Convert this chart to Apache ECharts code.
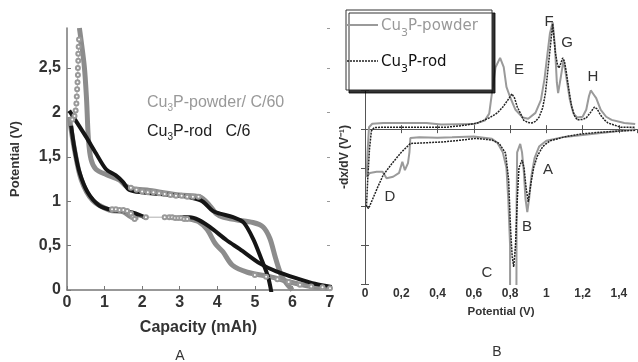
<!DOCTYPE html>
<html>
<head>
<meta charset="utf-8">
<script src="https://cdn.jsdelivr.net/npm/echarts@6/dist/echarts.min.js"></script>
<style>
  html, body { margin: 0; padding: 0; background: #fff; }
  #chart { width: 638px; height: 362px; }
</style>
</head>
<body>
<div id="chart"></div>
<script>
  // ---- panel A : potential vs capacity ----
  var powderUpper = [[0.33, 2.95], [0.46, 2.52], [0.52, 2.15], [0.57, 1.7], [0.64, 1.47], [0.77, 1.36], [1.04, 1.3], [1.39, 1.24], [1.57, 1.17], [1.75, 1.14], [2.2, 1.12], [3.0, 1.07], [3.53, 1.05], [3.8, 0.95], [3.97, 0.86], [4.15, 0.82], [4.5, 0.79], [4.95, 0.76], [5.22, 0.71], [5.4, 0.58], [5.55, 0.36], [5.7, 0.17], [5.85, 0.07], [6.0, 0]]
  var powderLower = [[0.06, 1.95], [0.2, 1.58], [0.38, 1.24], [0.68, 1.01], [1.13, 0.9], [1.5, 0.88], [1.75, 0.82], [1.9, 0.82]]
  var powderTail = [[3.25, 0.8], [3.5, 0.77], [3.73, 0.68], [3.95, 0.52], [4.15, 0.43], [4.4, 0.28], [4.8, 0.2], [5.4, 0.15], [5.93, 0.09], [6.5, 0.04], [7.0, 0.02]]
  var rodUpper = [[0.06, 2.02], [0.5, 1.73], [0.77, 1.54], [1.04, 1.36], [1.3, 1.29], [1.48, 1.22], [1.65, 1.13], [2.0, 1.1], [3.0, 1.06], [3.3, 1.04], [3.6, 1.0], [3.88, 0.89], [4.07, 0.86], [4.42, 0.82], [4.7, 0.76], [4.96, 0.57], [5.18, 0.34], [5.35, 0.15], [5.45, -0.05]]
  var rodLower = [[0.11, 1.85], [0.2, 1.59], [0.33, 1.33], [0.55, 1.1], [0.86, 0.95], [1.2, 0.9], [1.5, 0.89], [1.76, 0.87], [1.95, 0.84], [2.11, 0.81]]
  var rodTail = [[3.0, 0.82], [3.27, 0.82], [3.5, 0.79], [3.8, 0.71], [4.25, 0.56], [4.6, 0.46], [5.13, 0.3], [5.57, 0.21], [6.2, 0.12], [6.6, 0.07], [7.1, 0.03]]
  // measured points (open circles)
  var circStart = [[0.32, 2.82], [0.31, 2.74], [0.3, 2.66], [0.3, 2.58], [0.29, 2.5], [0.29, 2.42], [0.28, 2.34], [0.27, 2.26], [0.26, 2.18], [0.25, 2.1], [0.23, 2.02], [0.2, 1.96], [0.14, 1.92]]
  var circLow = [[1.2, 0.91], [1.3, 0.91], [1.4, 0.9], [1.5, 0.9], [1.6, 0.89], [1.7, 0.86], [1.75, 0.82], [1.8, 0.8], [2.1, 0.82], [2.6, 0.82], [2.72, 0.82], [2.8, 0.82], [2.88, 0.81], [2.96, 0.81], [3.04, 0.81], [3.12, 0.8], [3.2, 0.8]]
  var circUp = [[1.7, 1.15], [1.85, 1.13], [2.0, 1.11], [2.15, 1.1], [2.3, 1.1], [2.45, 1.09], [2.6, 1.08], [2.75, 1.07], [2.9, 1.06], [3.05, 1.06], [3.2, 1.05], [3.35, 1.05], [3.5, 1.05]]
  var circTail = [[5.0, 0.17], [5.3, 0.15], [5.6, 0.12], [5.9, 0.09], [6.2, 0.06], [6.5, 0.04], [6.8, 0.03], [7.0, 0.02]]

  // ---- panel B : -dx/dV vs potential ----
  var powderDis = [[1.49, 0.0], [1.4, -0.05], [1.3, -0.1], [1.2, -0.15], [1.1, -0.2], [1.0, -0.3], [0.96, -0.45], [0.935, -0.75], [0.918, -1.2], [0.905, -1.8], [0.895, -2.14], [0.885, -1.8], [0.876, -1.1], [0.866, -0.6], [0.856, -0.38], [0.846, -0.33], [0.839, -0.6], [0.836, -2], [0.835, -4.5], [0.80, -4.5], [0.80, -3.0], [0.79, -1.8], [0.78, -1.0], [0.76, -0.6], [0.73, -0.35], [0.7, -0.25], [0.6, -0.19], [0.48, -0.21], [0.4, -0.22], [0.3, -0.21], [0.25, -0.23], [0.245, -0.6], [0.237, -0.88], [0.22, -1.06], [0.206, -0.84], [0.188, -1.13], [0.155, -1.23], [0.119, -1.27], [0.097, -1.1], [0.064, -1.1], [0.027, -1.13], [0.009, -1.23]]
  var powderCh = [[0.014, -0.6], [0.022, 0.05], [0.04, 0.14], [0.1, 0.16], [0.34, 0.16], [0.42, 0.12], [0.6, 0.13], [0.66, 0.22], [0.685, 0.4], [0.70, 0.93], [0.72, 1.6], [0.745, 1.84], [0.765, 1.6], [0.78, 1.09], [0.8, 0.83], [0.83, 0.5], [0.87, 0.3], [0.9, 0.27], [0.94, 0.42], [0.97, 0.75], [0.99, 1.3], [1.005, 1.9], [1.02, 2.48], [1.035, 2.76], [1.048, 2.1], [1.058, 1.2], [1.065, 0.93], [1.08, 1.35], [1.095, 1.79], [1.11, 1.35], [1.13, 0.75], [1.15, 0.4], [1.17, 0.3], [1.2, 0.32], [1.22, 0.5], [1.235, 0.85], [1.245, 1.0], [1.26, 0.9], [1.275, 0.8], [1.3, 0.5], [1.33, 0.32], [1.36, 0.24], [1.43, 0.16], [1.49, 0.13]]
  var rodDis = [[1.49, -0.03], [1.4, -0.05], [1.3, -0.08], [1.2, -0.12], [1.1, -0.2], [1.02, -0.3], [0.98, -0.45], [0.95, -0.7], [0.93, -1.0], [0.915, -1.4], [0.9, -1.88], [0.888, -1.5], [0.877, -1.0], [0.866, -0.8], [0.857, -0.75], [0.849, -1.0], [0.84, -1.8], [0.83, -3.0], [0.82, -3.56], [0.812, -3.3], [0.803, -2.6], [0.792, -1.3], [0.775, -0.62], [0.74, -0.37], [0.7, -0.28], [0.61, -0.24], [0.5, -0.3], [0.43, -0.33], [0.3, -0.36], [0.25, -0.37], [0.2, -0.6], [0.15, -0.88], [0.1, -1.19], [0.07, -1.5], [0.04, -1.83], [0.02, -2.05], [0.008, -2.0]]
  var rodCh = [[0.015, -1.3], [0.025, -0.5], [0.035, -0.05], [0.05, 0.04], [0.1, 0.05], [0.45, 0.05], [0.55, 0.1], [0.62, 0.16], [0.685, 0.29], [0.73, 0.42], [0.76, 0.57], [0.795, 0.8], [0.81, 0.91], [0.825, 0.8], [0.84, 0.57], [0.86, 0.38], [0.875, 0.23], [0.9, 0.17], [0.92, 0.16], [0.94, 0.2], [0.96, 0.31], [0.98, 0.55], [0.995, 0.93], [1.008, 1.5], [1.02, 2.04], [1.035, 2.72], [1.05, 1.97], [1.062, 1.65], [1.07, 1.58], [1.08, 1.7], [1.09, 1.84], [1.1, 1.75], [1.11, 1.48], [1.125, 1.0], [1.14, 0.57], [1.155, 0.35], [1.17, 0.24], [1.2, 0.25], [1.22, 0.29], [1.245, 0.44], [1.265, 0.57], [1.28, 0.52], [1.3, 0.36], [1.32, 0.24], [1.34, 0.16], [1.41, 0.05], [1.49, 0.05]]
  var peakLabels = [['F', 549, 22], ['G', 567, 43], ['E', 519, 70], ['H', 593, 77], ['A', 548, 170], ['B', 527, 227], ['C', 487, 273], ['D', 390, 197]]
  var legendNames = ['Cu{s|3}P-powder', 'Cu{s|3}P-rod']

  var comma = function (v) { return String(Math.round(v * 10) / 10).replace('.', ',') }

  var chart = echarts.init(document.getElementById('chart'))

  var thick = function (data, color, w) {
    return { type: 'line', xAxisIndex: 0, yAxisIndex: 0, data: data, symbol: 'none', smooth: 0.3,
      lineStyle: { color: color, width: w }, z: w === 5 ? 2 : 3 }
  }
  var circles = function (data) {
    return { type: 'line', xAxisIndex: 0, yAxisIndex: 0, data: data, symbol: 'emptyCircle', symbolSize: 4,
      showAllSymbol: true, lineStyle: { color: '#999', width: 0.8 }, itemStyle: { color: '#999', borderWidth: 1 }, z: 4 }
  }

  var tickLabelA = { color: '#333', fontSize: 16, fontWeight: 'bold', fontFamily: 'Liberation Sans' }
  var frameB = {
    axisLine: { lineStyle: { color: '#555' } },
    axisTick: { inside: true, length: 4, lineStyle: { color: '#555' } },
    splitLine: { show: false }
  }

  // legend drawn by hand (box with drop shadow, solid / dotted samples)
  var legendBox = [
    { type: 'rect', z: 100, shape: { x: 346, y: 10, width: 146, height: 80 },
      style: { fill: '#fff', stroke: '#333', lineWidth: 1, shadowColor: 'rgba(0,0,0,0.8)', shadowOffsetX: 3, shadowOffsetY: 3, shadowBlur: 0 } },
    { type: 'line', z: 101, shape: { x1: 347, y1: 25, x2: 378, y2: 25 }, style: { stroke: '#9a9a9a', lineWidth: 2 } },
    { type: 'line', z: 101, shape: { x1: 347, y1: 61, x2: 378, y2: 61 }, style: { stroke: '#222', lineWidth: 1.5, lineDash: [2, 1] } },
    { type: 'text', z: 101, x: 381, y: 26, style: { text: legendNames[0], fill: '#999', fontSize: 15, fontFamily: 'DejaVu Sans', verticalAlign: 'middle',
      rich: { s: { fontSize: 11, fill: '#999', fontFamily: 'DejaVu Sans', padding: [15, 0, 0, 0] } } } },
    { type: 'text', z: 101, x: 381, y: 62, style: { text: legendNames[1], fill: '#111', fontSize: 15, fontFamily: 'DejaVu Sans', verticalAlign: 'middle',
      rich: { s: { fontSize: 11, fill: '#111', fontFamily: 'DejaVu Sans', padding: [15, 0, 0, 0] } } } }
  ]

  chart.setOption({
    animation: false,
    grid: [
      { left: 67, top: 28, width: 263, height: 262 },
      { left: 365, top: 13, width: 272, height: 271 }
    ],
    xAxis: [
      { gridIndex: 0, type: 'value', min: 0, max: 7, interval: 1,
        name: 'Capacity (mAh)', nameLocation: 'middle', nameGap: 30,
        nameTextStyle: { fontSize: 16, fontWeight: 'bold', color: '#333', fontFamily: 'Liberation Sans' },
        axisLine: { lineStyle: { color: '#777', width: 1.5 } },
        axisTick: { inside: true, length: 4, lineStyle: { color: '#777' } },
        axisLabel: Object.assign({ margin: 5, formatter: comma }, tickLabelA),
        splitLine: { show: false } },
      Object.assign({ gridIndex: 1, type: 'value', min: 0, max: 1.5, interval: 0.2,
        name: 'Potential (V)', nameLocation: 'middle', nameGap: 22,
        nameTextStyle: { fontSize: 11.5, fontWeight: 'bold', color: '#333', fontFamily: 'Liberation Sans' },
        axisLabel: { margin: 4, formatter: comma, showMaxLabel: false, color: '#333', fontSize: 12, fontWeight: 'bold', fontFamily: 'Liberation Sans' } }, frameB),
      Object.assign({ gridIndex: 1, type: 'value', position: 'top', min: 0, max: 1.5, interval: 0.2,
        axisLabel: { show: false } }, frameB)
    ],
    yAxis: [
      { gridIndex: 0, type: 'value', min: 0, max: 2.95, interval: 0.5,
        name: 'Potential (V)', nameLocation: 'middle', nameGap: 45,
        nameTextStyle: { fontSize: 13, fontWeight: 'bold', color: '#333', fontFamily: 'Liberation Sans' },
        axisLine: { lineStyle: { color: '#777', width: 1.5 } },
        axisTick: { inside: true, length: 4, lineStyle: { color: '#777' } },
        axisLabel: Object.assign({ margin: 6, formatter: comma, showMaxLabel: false }, tickLabelA),
        splitLine: { show: false } },
      { gridIndex: 0, type: 'value', position: 'right', min: 0, max: 2.95, interval: 0.5,
        axisLine: { show: false }, axisLabel: { show: false }, splitLine: { show: false },
        axisTick: { inside: true, length: 3, lineStyle: { color: '#999' } } },
      Object.assign({ gridIndex: 1, type: 'value', min: -4, max: 3, interval: 1,
        axisLabel: { show: false } }, frameB),
      Object.assign({ gridIndex: 1, type: 'value', position: 'right', min: -4, max: 3, interval: 1,
        axisLabel: { show: false } }, frameB)
    ],
    graphic: [
      { type: 'text', x: 147, y: 103, style: { text: 'Cu{s|3}P-powder/ C/60', fill: '#999', fontSize: 16, fontFamily: 'Liberation Sans', verticalAlign: 'middle',
        rich: { s: { fontSize: 10, fill: '#999', padding: [10, 0, 0, 0] } } } },
      { type: 'text', x: 147, y: 132, style: { text: 'Cu{s|3}P-rod   C/6', fill: '#222', fontSize: 16, fontFamily: 'Liberation Sans', verticalAlign: 'middle',
        rich: { s: { fontSize: 10, fill: '#222', padding: [10, 0, 0, 0] } } } },
      { type: 'text', x: 345, y: 157, rotation: Math.PI / 2, style: { text: '-dx/dV (V\u207B\u00B9)', fill: '#333', fontSize: 12, fontWeight: 'bold', fontFamily: 'Liberation Sans', align: 'center', verticalAlign: 'middle' } },
      { type: 'text', x: 180, y: 356, style: { text: 'A', fill: '#333', fontSize: 14, fontFamily: 'Liberation Sans', align: 'center', verticalAlign: 'middle' } },
      { type: 'text', x: 497, y: 352, style: { text: 'B', fill: '#333', fontSize: 14, fontFamily: 'Liberation Sans', align: 'center', verticalAlign: 'middle' } }
    ].concat(peakLabels.map(function (p) {
      return { type: 'text', x: p[1], y: p[2], z: 10, style: { text: p[0], fill: '#333', fontSize: 15, fontFamily: 'Liberation Sans', align: 'center', verticalAlign: 'middle' } }
    })).concat(legendBox),
    series: [
      thick(powderUpper, '#8c8c8c', 5),
      thick(powderLower, '#8c8c8c', 5),
      thick(powderTail, '#8c8c8c', 5),
      thick(rodUpper, '#151515', 4),
      thick(rodLower, '#151515', 4),
      thick(rodTail, '#151515', 4),
      circles(circStart),
      circles(circLow),
      circles(circUp),
      circles(circTail),
      { name: 'Cu3P-powder', type: 'line', xAxisIndex: 1, yAxisIndex: 2, data: powderDis.concat(powderCh),
        symbol: 'none', lineStyle: { color: '#9a9a9a', width: 2 } },
      { name: 'Cu3P-rod', type: 'line', xAxisIndex: 1, yAxisIndex: 2, data: rodDis.concat(rodCh),
        symbol: 'none', lineStyle: { color: '#222', width: 1.5, type: [2, 1] }, z: 3 }
    ]
  })
</script>
</body>
</html>
